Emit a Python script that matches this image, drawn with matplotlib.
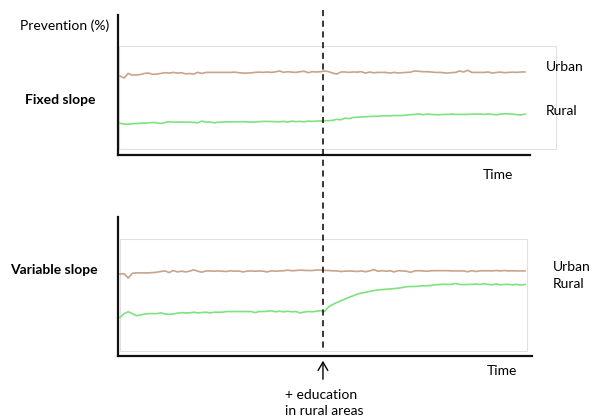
import numpy as np
import matplotlib
matplotlib.use("Agg")
import matplotlib.pyplot as plt
from matplotlib.patches import Rectangle, FancyArrowPatch
from matplotlib.lines import Line2D
from matplotlib.transforms import blended_transform_factory

plt.rcParams['font.family'] = ['Lato', 'DejaVu Sans']

# prevention (%) over time, intervention at t = 50
t_intervention = 49.6

fixed_urban = [56.4, 55.0, 58.3, 57.0, 57.2, 57.5, 58.3, 58.5, 57.6, 57.8,
               58.3, 58.8, 58.5, 59.0, 58.5, 58.8, 58.0, 58.2, 57.8, 59.0,
               58.3, 59.0, 59.0, 59.0, 59.0, 59.0, 59.0, 59.0, 59.2, 58.8,
               58.5, 58.5, 58.7, 59.0, 59.2, 59.0, 59.3, 59.0, 59.4, 60.0,
               59.0, 59.5, 59.2, 59.0, 59.5, 59.8, 58.8, 59.5, 59.3, 59.5,
               60.0, 59.5, 58.5, 57.8, 59.3, 59.3, 59.0, 59.3, 59.2, 59.5,
               58.5, 59.3, 58.7, 59.0, 59.0, 59.0, 58.5, 59.0, 58.6, 58.8,
               59.0, 59.2, 60.0, 59.8, 59.5, 59.5, 59.3, 59.0, 59.0, 58.8,
               58.5, 58.8, 59.0, 60.0, 59.3, 60.5, 59.0, 59.0, 59.0, 59.0,
               59.3, 58.5, 59.0, 59.2, 58.8, 59.0, 59.2, 59.0, 59.3, 59.3]

fixed_rural = [22.6, 22.2, 22.0, 22.3, 22.5, 22.7, 22.8, 23.0, 23.2, 23.0,
               22.5, 23.2, 23.8, 23.5, 23.5, 23.5, 23.4, 23.5, 23.3, 23.0,
               24.2, 23.5, 23.6, 23.0, 23.4, 23.5, 23.7, 23.7, 23.7, 23.7,
               23.8, 23.7, 23.5, 23.6, 23.8, 24.0, 24.0, 23.9, 23.8, 23.8,
               24.0, 23.5, 24.2, 23.8, 24.0, 23.7, 24.2, 24.0, 24.2, 24.3,
               24.5, 24.5, 24.8, 25.5, 25.2, 26.3, 26.0, 26.8, 27.0, 27.2,
               27.3, 27.5, 27.6, 27.7, 27.9, 28.0, 28.0, 28.2, 28.2, 28.2,
               28.5, 28.8, 29.0, 29.3, 28.8, 29.2, 29.0, 28.8, 28.7, 29.0,
               29.0, 29.2, 29.0, 29.0, 29.0, 29.0, 29.2, 29.2, 29.3, 29.0,
               29.3, 29.0, 28.7, 29.2, 29.5, 29.3, 29.2, 28.8, 28.6, 29.2]

variable_urban = [59.0, 59.2, 56.0, 59.5, 59.8, 59.8, 59.8, 59.8, 60.0, 60.3,
                  60.8, 61.2, 60.0, 61.5, 60.5, 61.0, 60.5, 61.0, 62.0, 61.0,
                  60.3, 61.2, 61.2, 61.0, 61.2, 61.0, 60.8, 61.3, 61.0, 61.2,
                  60.5, 61.0, 61.2, 61.0, 61.2, 61.0, 60.5, 61.3, 61.0, 61.2,
                  61.3, 61.8, 61.3, 61.5, 61.8, 61.6, 61.5, 61.5, 61.8, 61.8,
                  61.6, 61.5, 61.3, 61.2, 60.8, 61.0, 61.2, 61.0, 60.8, 61.2,
                  60.6, 61.2, 62.2, 61.0, 61.4, 61.0, 61.3, 60.5, 61.4, 61.2,
                  61.0, 60.2, 61.2, 61.4, 61.2, 61.0, 61.3, 61.4, 61.4, 61.4,
                  61.4, 61.2, 61.2, 61.2, 61.2, 60.6, 61.4, 60.8, 61.3, 61.3,
                  61.3, 61.2, 61.5, 61.2, 61.5, 61.2, 61.3, 61.2, 61.2, 61.2]

variable_rural = [27.8, 30.5, 31.8, 30.5, 29.0, 29.5, 30.2, 30.5, 30.5, 30.5,
                  31.0, 30.3, 30.0, 30.2, 30.8, 31.2, 31.0, 31.0, 31.5, 31.0,
                  31.3, 31.5, 31.0, 31.5, 31.5, 31.5, 32.0, 32.0, 32.0, 32.0,
                  32.0, 32.0, 32.0, 31.2, 32.0, 32.0, 32.2, 32.5, 31.8, 32.2,
                  31.8, 32.2, 31.8, 32.0, 31.0, 31.6, 32.0, 31.8, 32.2, 32.6,
                  32.0, 35.5, 37.0, 38.5, 39.8, 41.0, 42.3, 43.3, 44.5, 45.3,
                  45.8, 46.5, 47.0, 47.5, 47.8, 48.0, 48.2, 48.5, 48.8, 49.3,
                  49.8, 50.0, 50.0, 50.2, 50.5, 50.5, 50.8, 51.2, 51.4, 51.6,
                  51.5, 51.5, 52.2, 51.5, 51.3, 51.5, 51.5, 51.8, 51.4, 52.0,
                  51.5, 51.2, 51.8, 51.2, 51.5, 51.5, 51.2, 51.5, 51.0, 51.5]

urban_color = '#c8a48a'
rural_color = '#7ee27e'
W, H = 599, 420


def px(x, y):
    return x / W, 1 - y / H


fig = plt.figure(figsize=(W / 100, H / 100), dpi=100)

panels = [
    # spine pixels (left, top, right, bottom), gray box in data units
    (fixed_urban, fixed_rural, (118, 15, 530, 155), (-0.2, 4.3, 106.5, 78.0)),
    (variable_urban, variable_rural, (118, 217, 532, 356), (0.0, 3.5, 99.6, 84.2)),
]
axes = []
for urban, rural, (l, t, r, b), (bx0, by0, bx1, by1) in panels:
    ax = fig.add_axes([l / W, 1 - b / H, (r - l) / W, (b - t) / H])
    ax.set_xlim(-0.5, -0.5 + (r - l) / 4.0909)
    ax.set_ylim(0, 100)
    ax.plot(np.arange(len(urban)), urban, color=urban_color, lw=1.2, clip_on=False)
    ax.plot(np.arange(len(rural)), rural, color=rural_color, lw=1.2, clip_on=False)
    ax.add_patch(Rectangle((bx0, by0), bx1 - bx0, by1 - by0, fill=False,
                           edgecolor='#e0e0e0', lw=0.8, clip_on=False, zorder=0))
    for s in ['top', 'right']:
        ax.spines[s].set_visible(False)
    for s in ['left', 'bottom']:
        ax.spines[s].set_linewidth(1.6)
        ax.spines[s].set_color('#111111')
    ax.set_xticks([])
    ax.set_yticks([])
    ax.patch.set_alpha(0)
    axes.append(ax)

# intervention line across both panels
tr = blended_transform_factory(axes[1].transData, fig.transFigure)
fig.add_artist(Line2D([t_intervention, t_intervention], [px(0, 10)[1], px(0, 352)[1]],
                      transform=tr, color='black', lw=1.1, linestyle=(0, (4, 3))))
x_arrow = axes[1].transData.transform((t_intervention, 0))[0] / W
fig.add_artist(FancyArrowPatch(
    (x_arrow, px(0, 382)[1]), (x_arrow, px(0, 358)[1]), transform=fig.transFigure,
    arrowstyle='->,head_length=6,head_width=3.5', lw=1.0, color='black'))

fs = 10
fig.text(*px(20, 26), 'Prevention (%)', fontsize=fs, va='center', ha='left')
fig.text(*px(25, 100), 'Fixed slope', fontsize=fs, fontweight='bold', va='center', ha='left')
fig.text(*px(10, 270), 'Variable slope', fontsize=fs, fontweight='bold', va='center', ha='left')
fig.text(*px(546, 67), 'Urban', fontsize=fs, va='center', ha='left')
fig.text(*px(546, 111), 'Rural', fontsize=fs, va='center', ha='left')
fig.text(*px(553, 267), 'Urban', fontsize=fs, va='center', ha='left')
fig.text(*px(553, 284), 'Rural', fontsize=fs, va='center', ha='left')
fig.text(*px(498, 175), 'Time', fontsize=fs, va='center', ha='center')
fig.text(*px(502, 371), 'Time', fontsize=fs, va='center', ha='center')
fig.text(*px(285, 403), '+ education\nin rural areas', fontsize=fs, va='center',
         ha='left', linespacing=1.4)

fig.savefig('out.png', dpi=100)
